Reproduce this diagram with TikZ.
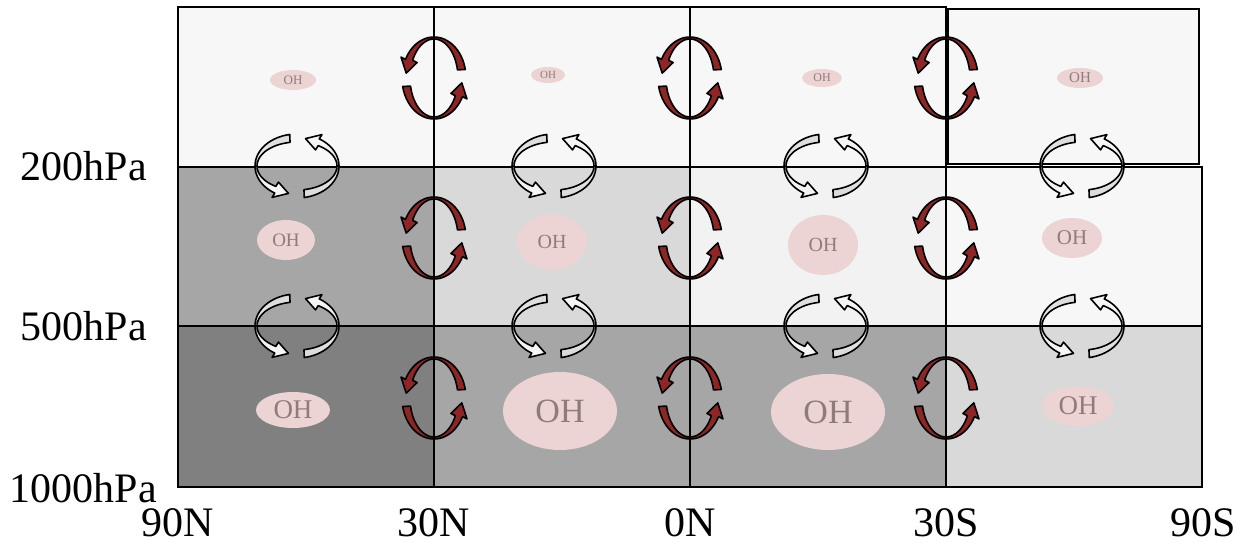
\documentclass[tikz,border=0pt]{standalone}
\usepackage{fontspec}
\setmainfont{Liberation Serif}
\usetikzlibrary{shapes.geometric}
\definecolor{arrred}{RGB}{142,38,38}
\definecolor{ohfill}{RGB}{236,212,212}
\definecolor{ohtext}{RGB}{145,122,122}
\definecolor{topc}{RGB}{247,247,247}
\definecolor{ca}{RGB}{166,166,166}
\definecolor{cb}{RGB}{217,217,217}
\definecolor{cc}{RGB}{242,242,242}
\definecolor{cd}{RGB}{128,128,128}
\tikzset{
  gridline/.style={draw=black,line width=2.4pt},
  redarr/.style={draw=black,fill=arrred,line width=1.6pt,line join=round},
  whtl/.style={draw=black,line width=1.6pt,line join=round,top color=white!72!gray,bottom color=white!95!gray},
  whtr/.style={draw=black,line width=1.6pt,line join=round,top color=white!95!gray,bottom color=white!70!gray},
  ohell/.style={ellipse,fill=ohfill,draw=none,inner sep=0pt,text=ohtext},
  lab/.style={font=\fontsize{42}{42}\selectfont,inner sep=0pt}
}
% #1 style, #2 cx, #3 cy, #4 rx out, #5 ry out, #6 rx in, #7 ry in, #8 start, #9 end
\newcommand{\bandarrow}[9]{%
  \draw[#1] plot[domain=#8:#9,samples=30] ({#2+#4*cos(\x)},{#3-#5*sin(\x)})
    -- ({#2+(#4+5)*cos(#9)},{#3-(#5+5)*sin(#9)})
    -- ({#2+(#4+#6)/2*cos(#9+20)},{#3-(#5+#7)/2*sin(#9+20)})
    -- ({#2+(#6-5)*cos(#9)},{#3-(#7-5)*sin(#9)})
    -- plot[domain=#9:#8,samples=30] ({#2+#6*cos(\x)},{#3-#7*sin(\x)})
    -- cycle;}
\newcommand{\redpair}[2]{%
  \bandarrow{redarr}{#1}{#2}{32}{41}{24}{39}{12}{153}%
  \bandarrow{redarr}{#1}{#2}{32}{41}{24}{39}{192}{333}}
\newcommand{\whitepair}[2]{%
  \bandarrow{whtl}{#1}{#2}{42}{32}{40}{24}{100}{238}%
  \bandarrow{whtr}{#1}{#2}{42}{32}{40}{24}{280}{418}}
\begin{document}
\begin{tikzpicture}[x=1pt,y=-1pt]
\useasboundingbox (0,0) rectangle (1237,543);
% cell fills
\fill[topc] (178,7) rectangle (946,167);
\fill[topc] (948,9) rectangle (1199,164);
\fill[ca] (178,167) rectangle (434,326);
\fill[cb] (434,167) rectangle (690,326);
\fill[cc] (690,167) rectangle (946,326);
\fill[topc] (946,167) rectangle (1202,326);
\fill[cd] (178,326) rectangle (434,487);
\fill[ca] (434,326) rectangle (690,487);
\fill[ca] (690,326) rectangle (946,487);
\fill[cb] (946,326) rectangle (1202,487);
% OH ellipses
\node[ohell,minimum width=46pt,minimum height=20pt,font=\fontsize{13}{13}\selectfont] (oh11) at (293,80) {OH};
\node[ohell,minimum width=34pt,minimum height=16pt,font=\fontsize{11}{11}\selectfont] (oh12) at (548,75) {OH};
\node[ohell,minimum width=40pt,minimum height=18pt,font=\fontsize{12}{12}\selectfont] (oh13) at (822,78) {OH};
\node[ohell,minimum width=46pt,minimum height=20pt,font=\fontsize{15}{15}\selectfont] (oh14) at (1080,78) {OH};
\node[ohell,minimum width=58pt,minimum height=40pt,font=\fontsize{19}{19}\selectfont] (oh21) at (286,240) {OH};
\node[ohell,minimum width=70pt,minimum height=56pt,font=\fontsize{20}{20}\selectfont] (oh22) at (552,242) {OH};
\node[ohell,minimum width=70pt,minimum height=60pt,font=\fontsize{20}{20}\selectfont] (oh23) at (823,245) {OH};
\node[ohell,minimum width=60pt,minimum height=40pt,font=\fontsize{21}{21}\selectfont] (oh24) at (1072,238) {OH};
\node[ohell,minimum width=74pt,minimum height=36pt,font=\fontsize{27}{27}\selectfont] (oh31) at (293,410) {OH};
\node[ohell,minimum width=114pt,minimum height=78pt,font=\fontsize{34}{34}\selectfont] (oh32) at (560,411) {OH};
\node[ohell,minimum width=114pt,minimum height=76pt,font=\fontsize{34}{34}\selectfont] (oh33) at (828,412) {OH};
\node[ohell,minimum width=72pt,minimum height=40pt,font=\fontsize{27}{27}\selectfont] (oh34) at (1078,406) {OH};
% grid
\draw[gridline] (178,7) rectangle (946,167);
\draw[gridline] (948,9) rectangle (1199,164);
\draw[gridline] (178,167) rectangle (1202,487);
\draw[gridline] (178,326) -- (1202,326);
\draw[gridline] (434,7) -- (434,487);
\draw[gridline] (690,7) -- (690,487);
\draw[gridline] (946,167) -- (946,487);
% red circulation arrows
\foreach \cx in {434,690,946}{
  \foreach \cy in {78,238,398}{
    \redpair{\cx}{\cy}
  }
}
% white circulation arrows
\foreach \cx in {297,554,826,1082}{
  \foreach \cy in {166,326}{
    \whitepair{\cx}{\cy}
  }
}
% labels
\node[lab,anchor=base east] (p200) at (147,180) {200hPa};
\node[lab,anchor=base east] (p500) at (147,340) {500hPa};
\node[lab,anchor=base east] (p1000) at (157,502) {1000hPa};
\node[lab,anchor=base] (l90n) at (178,536) {90N};
\node[lab,anchor=base] (l30n) at (434,536) {30N};
\node[lab,anchor=base] (l0n) at (690,536) {0N};
\node[lab,anchor=base] (l30s) at (946,536) {30S};
\node[lab,anchor=base] (l90s) at (1203,536) {90S};
\end{tikzpicture}
\end{document}
